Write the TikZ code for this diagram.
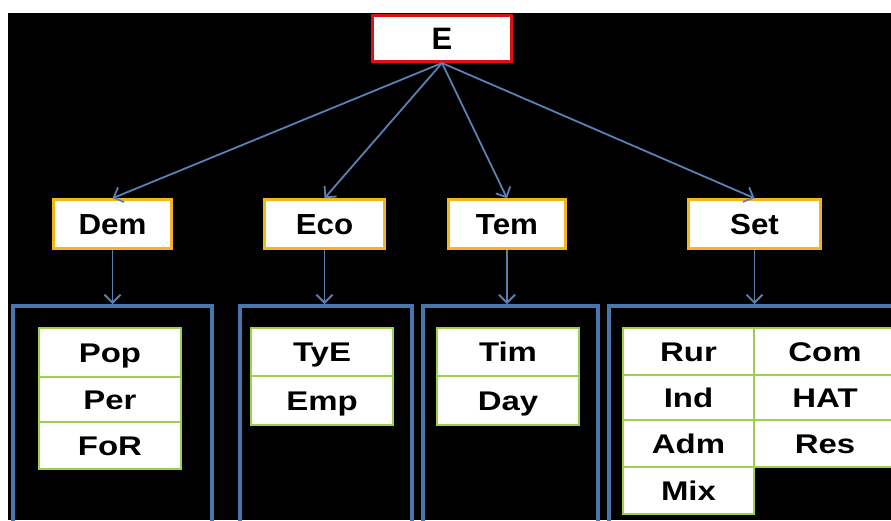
\documentclass[tikz,border=0pt]{standalone}
\usepackage{fontspec}
\setmainfont{Liberation Sans}
\usetikzlibrary{arrows.meta}

\definecolor{frameblue}{HTML}{4A76AE}
\definecolor{linkblue}{HTML}{5A80B4}
\definecolor{rootred}{HTML}{E01010}
\definecolor{catgold}{HTML}{F2B61C}
\definecolor{itemgreen}{HTML}{9BD14A}

% slightly widened lettering
\newcommand{\widecat}[1]{\scalebox{1.08}[1]{#1}}
\newcommand{\wideitem}[1]{\scalebox{1.22}[1]{#1}}

\begin{document}
\begin{tikzpicture}[x=1pt,y=-1pt,
  box/.style={draw, fill=white, inner sep=0pt, text=black},
  root/.style={box, draw=rootred, line width=3pt,
    font=\fontsize{31}{31}\selectfont\bfseries, text height=22pt, text depth=0pt},
  cat/.style={box, draw=catgold, line width=2.5pt, minimum height=49pt,
    font=\fontsize{29}{29}\selectfont\bfseries, text height=21pt, text depth=0pt},
  item/.style={box, draw=itemgreen, line width=2.5pt,
    font=\fontsize{27}{27}\selectfont\bfseries, text height=19.5pt, text depth=0pt},
  frame/.style={draw=frameblue, line width=4pt},
  link/.style={draw=linkblue, line width=1.8pt,
    -{Straight Barb[length=8pt,width=16pt,line width=1.8pt]}}]

\useasboundingbox (0,0) rectangle (891,520);
\clip (0,0) rectangle (891,520);

% background
\fill[white] (0,0) rectangle (891,520);
\fill[black] (8,13) rectangle (891,520);

% blue frames around each group of items
\draw[frame] (13,522) -- (13,306) -- (212,306) -- (212,522);
\draw[frame] (240,522) -- (240,306) -- (412,306) -- (412,522);
\draw[frame] (423,522) -- (423,306) -- (598,306) -- (598,522);
\draw[frame] (609,522) -- (609,306) -- (900,306);

% level where the downward links meet the frames
\coordinate (ftop) at (0,304);

% root and categories
\node[root, minimum width=139pt, minimum height=46pt] (E) at (442,38.5) {E};
\node[cat, minimum width=118pt] (Dem) at (112.5,224) {\widecat{Dem}};
\node[cat, minimum width=120pt] (Eco) at (324.5,224) {\widecat{Eco}};
\node[cat, minimum width=117pt] (Tem) at (507,224) {\widecat{Tem}};
\node[cat, minimum width=132pt] (Set) at (754.5,224) {\widecat{Set}};

% items of Dem
\node[item, minimum width=142pt, minimum height=49pt] (Pop) at (110,352.5) {\wideitem{Pop}};
\node[item, minimum width=142pt, minimum height=45pt] (Per) at (110,399.5) {\wideitem{Per}};
\node[item, minimum width=142pt, minimum height=47pt] (FoR) at (110,445.5) {\wideitem{FoR}};

% items of Eco
\node[item, minimum width=142pt, minimum height=48pt] (TyE) at (322,352) {\wideitem{TyE}};
\node[item, minimum width=142pt, minimum height=49pt] (Emp) at (322,400.5) {\wideitem{Emp}};

% items of Tem
\node[item, minimum width=142pt, minimum height=48pt] (Tim) at (508,352) {\wideitem{Tim}};
\node[item, minimum width=142pt, minimum height=49pt] (Day) at (508,400.5) {\wideitem{Day}};

% items of Set, two columns
\node[item, minimum width=131pt, minimum height=47pt] (Rur) at (688.5,351.5) {\wideitem{Rur}};
\node[item, minimum width=131pt, minimum height=45pt] (Ind) at (688.5,397.5) {\wideitem{Ind}};
\node[item, minimum width=131pt, minimum height=47pt] (Adm) at (688.5,443.5) {\wideitem{Adm}};
\node[item, minimum width=131pt, minimum height=47pt] (Mix) at (688.5,490.5) {\wideitem{Mix}};
\node[item, minimum width=142pt, minimum height=47pt] (Com) at (825,351.5) {\wideitem{Com}};
\node[item, minimum width=142pt, minimum height=45pt] (HAT) at (825,397.5) {\wideitem{HAT}};
\node[item, minimum width=142pt, minimum height=47pt] (Res) at (825,443.5) {\wideitem{Res}};

% connectors
\draw[link] (E.south) -- (Dem.north);
\draw[link] (E.south) -- (Eco.north);
\draw[link] (E.south) -- (Tem.north);
\draw[link] (E.south) -- (Set.north);
\draw[link] (Dem.south) -- (Dem.south |- ftop);
\draw[link] (Eco.south) -- (Eco.south |- ftop);
\draw[link] (Tem.south) -- (Tem.south |- ftop);
\draw[link] (Set.south) -- (Set.south |- ftop);
\end{tikzpicture}
\end{document}
